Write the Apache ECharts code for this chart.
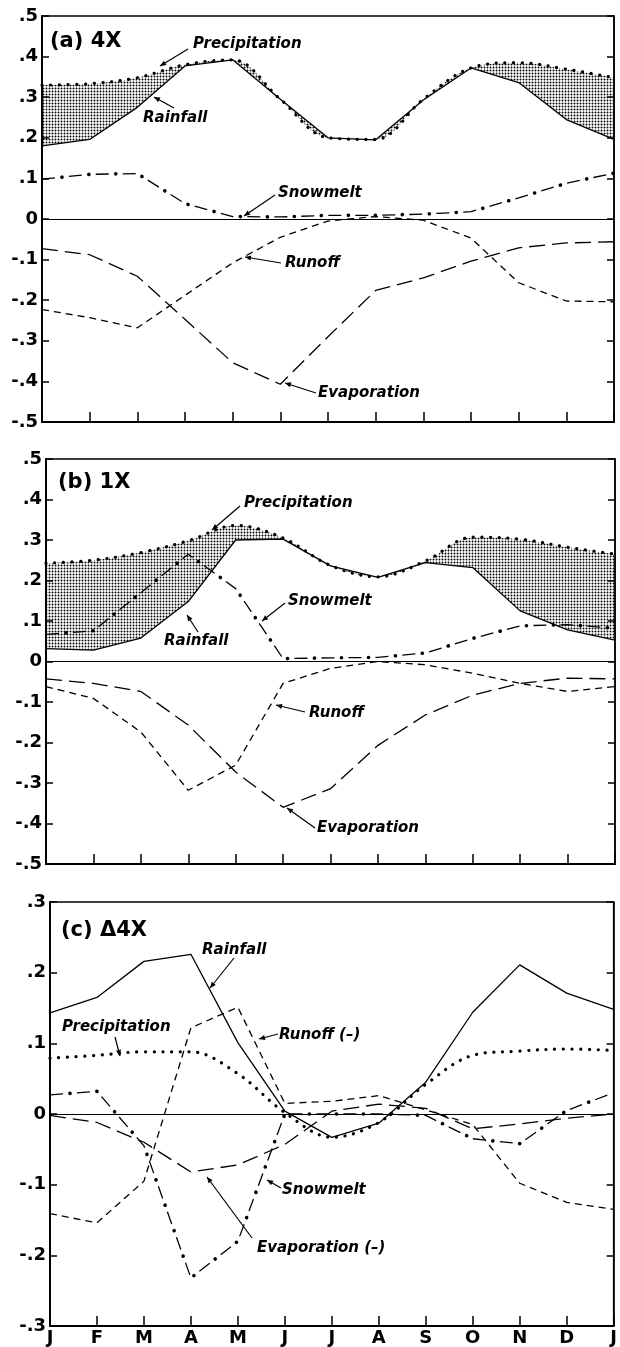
<!DOCTYPE html>
<html>
<head>
<meta charset="utf-8">
<script src="https://cdn.jsdelivr.net/npm/echarts@6.0.0/dist/echarts.min.js"></script>
<style>
  html, body { margin: 0; padding: 0; background: #fff; }
  #chart { width: 620px; height: 1347px; }
</style>
</head>
<body>
<div id="chart"></div>
<script>
// Month ticks, January to January
const months = ['J', 'F', 'M', 'A', 'M', 'J', 'J', 'A', 'S', 'O', 'N', 'D', 'J'];

// (a) 4X
const rainA    = [0.180, 0.196, 0.275, 0.377, 0.392, 0.295, 0.200, 0.195, 0.293, 0.372, 0.336, 0.245, 0.196];
const precipA  = [0.330, 0.333, 0.348, 0.380, 0.392, 0.295, 0.200, 0.196, 0.295, 0.372, 0.385, 0.369, 0.348];
const snowA    = [0.098, 0.110, 0.112, 0.038, 0.006, 0.005, 0.009, 0.009, 0.012, 0.018, 0.052, 0.088, 0.113];
const runoffA  = [-0.223, -0.243, -0.268, -0.188, -0.108, -0.045, -0.005, 0.006, -0.003, -0.047, -0.157, -0.202, -0.204];
const evapA    = [-0.073, -0.088, -0.141, -0.247, -0.354, -0.407, -0.290, -0.176, -0.145, -0.104, -0.071, -0.059, -0.056];

// (b) 1X
const rainB    = [0.032, 0.028, 0.058, 0.148, 0.300, 0.302, 0.236, 0.208, 0.244, 0.232, 0.125, 0.078, 0.053];
const precipB  = [0.243, 0.250, 0.269, 0.298, 0.336, 0.305, 0.237, 0.209, 0.248, 0.307, 0.302, 0.282, 0.265];
const snowB    = [0.067, 0.076, 0.170, 0.265, 0.180, 0.007, 0.009, 0.010, 0.021, 0.057, 0.088, 0.091, 0.082];
const runoffB  = [-0.062, -0.091, -0.174, -0.318, -0.256, -0.054, -0.017, 0.000, -0.008, -0.029, -0.054, -0.074, -0.062];
const evapB    = [-0.043, -0.054, -0.074, -0.157, -0.273, -0.360, -0.314, -0.207, -0.132, -0.083, -0.054, -0.041, -0.043];

// (c) change, 4X minus 1X
const rainC    = [0.143, 0.165, 0.216, 0.226, 0.101, 0.004, -0.033, -0.013, 0.045, 0.144, 0.211, 0.171, 0.148];
const precipC  = [0.079, 0.083, 0.088, 0.088, 0.057, 0.002, -0.033, -0.012, 0.042, 0.083, 0.089, 0.092, 0.090];
const snowC    = [0.027, 0.032, -0.045, -0.232, -0.180, 0.000, 0.000, 0.000, -0.002, -0.035, -0.042, 0.005, 0.030];
const runoffC  = [-0.141, -0.154, -0.095, 0.122, 0.151, 0.015, 0.018, 0.026, 0.006, -0.015, -0.098, -0.125, -0.135];
const evapC    = [-0.002, -0.012, -0.040, -0.082, -0.072, -0.043, 0.004, 0.014, 0.008, -0.021, -0.014, -0.006, 0.000];

const FONT = '"DejaVu Sans", "Liberation Sans", sans-serif';
const INK = '#000';

// dense stipple used between rainfall and precipitation
function stipple() {
  const c = document.createElement('canvas');
  c.width = 3; c.height = 3;
  const g = c.getContext('2d');
  g.fillStyle = '#000';
  g.beginPath();
  g.arc(1.5, 1.5, 0.95, 0, Math.PI * 2);
  g.fill();
  return c;
}
const stipplePattern = { image: stipple(), repeat: 'repeat' };

const panels = [
  { grid: { left: 42, top: 16, width: 572, height: 406 }, min: -0.5, max: 0.5,
    rain: rainA, precip: precipA, snow: snowA, runoff: runoffA, evap: evapA, fill: true, labels: false },
  { grid: { left: 46, top: 459, width: 569, height: 405 }, min: -0.5, max: 0.5,
    rain: rainB, precip: precipB, snow: snowB, runoff: runoffB, evap: evapB, fill: true, labels: false },
  { grid: { left: 50, top: 902, width: 569, height: 426 }, min: -0.3, max: 0.3,
    rain: rainC, precip: precipC, snow: snowC, runoff: runoffC, evap: evapC, fill: false, labels: true }
];

function yLabel(v) {
  const r = Math.round(v * 10);
  if (r === 0) return '0';
  return (r < 0 ? '-' : '') + '.' + Math.abs(r);
}

const grid = [], xAxis = [], yAxis = [], series = [];

panels.forEach((p, i) => {
  grid.push(Object.assign({ show: true, borderColor: INK, borderWidth: 1.5, backgroundColor: 'transparent' }, p.grid));

  xAxis.push({
    gridIndex: i, type: 'category', boundaryGap: false, position: 'bottom',
    data: months.map((m, k) => String(k)),
    axisLine: { onZero: false, lineStyle: { color: INK, width: 2 } },
    axisTick: { show: true, inside: true, length: 10, interval: 0, lineStyle: { color: INK, width: 1.5 } },
    axisLabel: p.labels ? {
      show: true, interval: 0, margin: 3, color: INK,
      fontFamily: FONT, fontWeight: 'bold', fontSize: 18,
      formatter: (v, idx) => months[idx]
    } : { show: false },
    splitLine: { show: false }
  });

  const yBase = {
    gridIndex: i, type: 'value', min: p.min, max: p.max, interval: 0.1,
    axisLine: { show: true, onZero: false, lineStyle: { color: INK, width: 2 } },
    axisTick: { show: true, inside: true, length: 7, lineStyle: { color: INK, width: 1.5 } },
    splitLine: { show: false }
  };
  yAxis.push(Object.assign({}, yBase, {
    position: 'left',
    axisLabel: { color: INK, fontFamily: FONT, fontWeight: 'bold', fontSize: 18, margin: 4, formatter: yLabel }
  }));
  yAxis.push(Object.assign({}, yBase, {
    position: 'right',
    axisLine: { show: true, onZero: false, lineStyle: { color: INK, width: 1.5 } },
    axisLabel: { show: false }
  }));

  const common = { xAxisIndex: i, yAxisIndex: 2 * i, symbol: 'none', silent: true, animation: false };
  const pts = arr => arr.slice();
  const stackName = p.fill ? 'band' + i : undefined;

  // rainfall (solid) with the zero line
  series.push(Object.assign({}, common, {
    type: 'line', name: 'Rainfall', data: pts(p.rain), stack: stackName, z: 4,
    lineStyle: { color: INK, width: 1.3 },
    markLine: {
      silent: true, symbol: ['none', 'none'], label: { show: false }, animation: false,
      lineStyle: { color: INK, width: 1.1, type: 'solid' },
      data: [{ yAxis: 0 }]
    }
  }));

  // stippled band from rainfall up to precipitation
  if (p.fill) {
    series.push(Object.assign({}, common, {
      type: 'line', name: 'band', stack: stackName, smooth: 0.35, z: 2,
      data: p.precip.map((v, k) => +(v - p.rain[k]).toFixed(4)),
      lineStyle: { width: 0, opacity: 0 },
      areaStyle: { color: stipplePattern, opacity: 1 }
    }));
  }

  // precipitation, dotted
  series.push(Object.assign({}, common, {
    type: 'line', name: 'Precipitation', data: pts(p.precip), smooth: 0.35, z: 5,
    lineStyle: { color: INK, width: 3.2, type: [0.1, 8.6], cap: 'round' }
  }));

  // snowmelt, dash-dot (dash layer + dot layer sharing one path)
  series.push(Object.assign({}, common, {
    type: 'line', name: 'Snowmelt', data: pts(p.snow), z: 4,
    lineStyle: { color: INK, width: 1.3, type: [13, 14] }
  }));
  series.push(Object.assign({}, common, {
    type: 'line', name: 'Snowmelt dots', data: pts(p.snow), z: 4,
    lineStyle: { color: INK, width: 3.6, type: [0.1, 26.9], dashOffset: 7, cap: 'round' }
  }));

  // runoff, short dashes
  series.push(Object.assign({}, common, {
    type: 'line', name: 'Runoff', data: pts(p.runoff), z: 4,
    lineStyle: { color: INK, width: 1.3, type: [7, 5] }
  }));

  // evaporation, long dashes
  series.push(Object.assign({}, common, {
    type: 'line', name: 'Evaporation', data: pts(p.evap), z: 4,
    lineStyle: { color: INK, width: 1.3, type: [16, 7] }
  }));
});

// panel titles and curve call-outs
const titles = [
  { text: '(a) 4X', x: 50, y: 42 },
  { text: '(b) 1X', x: 58, y: 483 },
  { text: '(c) \u03944X', x: 61, y: 931 }
];
const notes = [
  { text: 'Precipitation', x: 193, y: 44, tail: [188, 49], tip: [160, 66] },
  { text: 'Rainfall', x: 143, y: 118, tail: [174, 108], tip: [154, 97] },
  { text: 'Snowmelt', x: 278, y: 193, tail: [275, 195], tip: [244, 216] },
  { text: 'Runoff', x: 285, y: 263, tail: [281, 263], tip: [245, 257] },
  { text: 'Evaporation', x: 318, y: 393, tail: [316, 393], tip: [285, 383] },

  { text: 'Precipitation', x: 244, y: 503, tail: [240, 506], tip: [212, 530] },
  { text: 'Snowmelt', x: 288, y: 601, tail: [285, 603], tip: [262, 621] },
  { text: 'Rainfall', x: 164, y: 641, tail: [198, 632], tip: [187, 615] },
  { text: 'Runoff', x: 309, y: 713, tail: [305, 712], tip: [276, 705] },
  { text: 'Evaporation', x: 317, y: 828, tail: [315, 828], tip: [287, 808] },

  { text: 'Rainfall', x: 202, y: 950, tail: [234, 958], tip: [210, 988] },
  { text: 'Precipitation', x: 62, y: 1027, tail: [115, 1037], tip: [120, 1056] },
  { text: 'Runoff (\u2013)', x: 279, y: 1035, tail: [278, 1034], tip: [259, 1039] },
  { text: 'Snowmelt', x: 282, y: 1190, tail: [281, 1188], tip: [267, 1180] },
  { text: 'Evaporation (\u2013)', x: 257, y: 1248, tail: [252, 1238], tip: [207, 1177] }
];

const graphic = [];
titles.forEach(t => graphic.push({
  type: 'text', x: t.x, y: t.y, z: 10, silent: true,
  style: { text: t.text, fill: INK, font: 'bold 21px ' + FONT, verticalAlign: 'middle', align: 'left' }
}));
notes.forEach(n => {
  graphic.push({
    type: 'text', x: n.x, y: n.y, z: 10, silent: true,
    style: { text: n.text, fill: INK, font: 'italic bold 15px ' + FONT, verticalAlign: 'middle', align: 'left' }
  });
  graphic.push({
    type: 'line', z: 10, silent: true,
    shape: { x1: n.tail[0], y1: n.tail[1], x2: n.tip[0], y2: n.tip[1] },
    style: { stroke: INK, lineWidth: 1.2 }
  });
  const dx = n.tip[0] - n.tail[0], dy = n.tip[1] - n.tail[1];
  const len = Math.hypot(dx, dy) || 1;
  const ux = dx / len, uy = dy / len;
  const hl = 6, hw = 2.6;
  const bx = n.tip[0] - ux * hl, by = n.tip[1] - uy * hl;
  graphic.push({
    type: 'polygon', z: 10, silent: true,
    shape: { points: [[n.tip[0], n.tip[1]], [bx - uy * hw, by + ux * hw], [bx + uy * hw, by - ux * hw]] },
    style: { fill: INK }
  });
});

const chart = echarts.init(document.getElementById('chart'), null, { renderer: 'canvas' });
chart.setOption({
  animation: false,
  backgroundColor: '#fff',
  grid, xAxis, yAxis, series, graphic
});
</script>
</body>
</html>
